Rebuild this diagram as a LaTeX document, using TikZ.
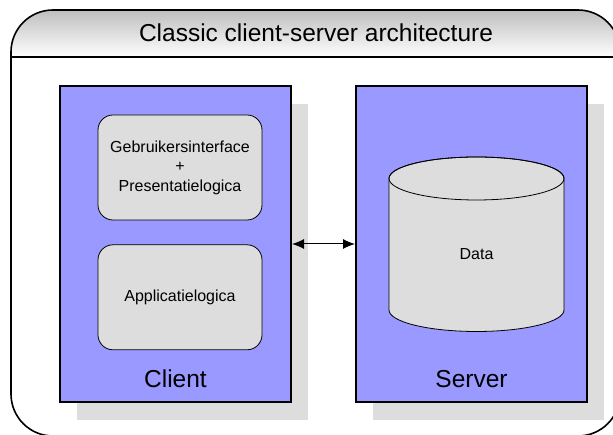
\documentclass[tikz,border=0pt]{standalone}
\usepackage{fontspec}
\setmainfont{Liberation Sans}
\definecolor{tierblue}{RGB}{153, 153, 255}
\definecolor{shadowgray}{RGB}{221, 221, 221}
\definecolor{boxgray}{RGB}{221, 221, 221}
\definecolor{bandgray}{RGB}{190, 190, 190}
\usepackage{tikz}
\usetikzlibrary{shadows, arrows.meta, positioning}

\begin{document}
\begin{tikzpicture}[
        x=1pt, y=1pt,
        arr/.style={{Latex[length=12pt, width=10pt]}-{Latex[length=12pt, width=10pt]}, line width=1pt},
        tierbox/.style={draw, line width=2pt, fill=tierblue, minimum width=231pt,
                    minimum height=316pt, inner sep=0pt,
                    drop shadow={shadow xshift=17pt, shadow yshift=-18pt,
                                 fill=shadowgray, opacity=1}},
        layer/.style={draw, line width=0.8pt, rounded corners=15pt, fill=boxgray,
                    minimum width=164pt, minimum height=105pt, align=center,
                    font=\fontsize{16}{19.5}\selectfont},
        lbl/.style={anchor=base, font=\fontsize{24.5}{29}\selectfont}
      ]
        \clip (0,0) rectangle (613,435);

        % frame with title band
        \begin{scope}
          \clip[rounded corners=42pt] (11,-1) rectangle (620,425);
          \shade[top color=bandgray, bottom color=white] (11,378) rectangle (620,425);
        \end{scope}
        \draw[line width=1.6pt, rounded corners=42pt] (11,-1) rectangle (620,425);
        \draw[line width=1.6pt] (11,378) -- (620,378);
        \node[lbl] (title) at (316,393.3) {Classic client-server architecture};

        % the two tiers
        \node[tierbox] (client) at (175.5,191) {};
        \node[tierbox, right=63pt of client] (server) {};
        \node[lbl] (clientlbl) at ([yshift=15.3pt]client.south) {Client};
        \node[lbl] (serverlbl) at ([yshift=15.3pt]server.south) {Server};

        \node[layer] (gui) at (180,267.5)
              {Gebruikersinterface\\+\\Presentatielogica};
        \node[layer, below=24pt of gui] (app) {Applicatielogica};

        % data store
        \filldraw[fill=boxgray, line width=0.8pt] (389,256.5) -- (389,125)
          arc[start angle=180, end angle=360, x radius=87.5, y radius=21.5]
          -- (564,256.5)
          arc[start angle=0, end angle=180, x radius=87.5, y radius=21.5] -- cycle;
        \draw[line width=0.8pt] (476.5,256.5) ellipse[x radius=87.5, y radius=21.5];
        \node[font=\fontsize{16}{19.5}\selectfont] (data) at (476.5,181) {Data};

        \draw[arr] (client.east) -- (server.west);
      \end{tikzpicture}
\end{document}
